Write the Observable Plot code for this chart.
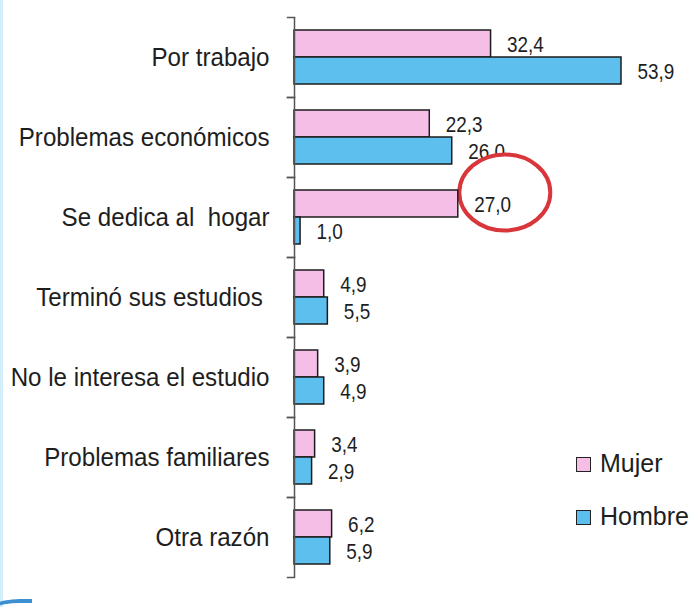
<!DOCTYPE html>
<html>
<head>
<meta charset="utf-8">
<script src="https://cdn.jsdelivr.net/npm/d3@7"></script>
<script src="https://cdn.jsdelivr.net/npm/@observablehq/plot@0.6"></script>
<style>
  html, body { margin: 0; padding: 0; background: #fff; }
  body { width: 697px; height: 607px; position: relative; overflow: hidden; font-family: "Liberation Sans", Arial, sans-serif; }
  #chart svg text { white-space: pre; }
  #legend { position: absolute; left: 576px; top: 437px; font-size: 25px; color: #1e1e1e; }
  #legend .row { display: flex; align-items: center; height: 53px; }
  #legend .sw { width: 13px; height: 13px; border: 1.6px solid #222; margin-right: 9px; margin-top: 2px; }
  #edge { position: absolute; left: 0; top: 0; width: 3px; height: 607px; background: #d3eefb; }
  #corner { position: absolute; left: -20px; top: 599px; width: 52px; height: 30px; border-top-left-radius: 40px 20px; border-top: 4px solid #3d8fd3; }
</style>
</head>
<body>
<div id="edge"></div>
<div id="corner"></div>
<div id="chart"></div>
<div id="legend"></div>
<script>
// ---- data ----
const categories = [
  "Por trabajo",
  "Problemas económicos",
  "Se dedica al  hogar",
  "Terminó sus estudios ",
  "No le interesa el estudio",
  "Problemas familiares",
  "Otra razón"
];
const series = ["Mujer", "Hombre"];
const mujer  = [32.4, 22.3, 27.0, 4.9, 3.9, 3.4, 6.2];
const hombre = [53.9, 26.0, 1.0, 5.5, 4.9, 2.9, 5.9];
const highlight = { category: "Se dedica al  hogar", sex: "Mujer" };
const colors = ["#f4bee6", "#5cbfed"];

const rows = [];
categories.forEach((c, i) => {
  rows.push({ category: c, sex: "Mujer", value: mujer[i] });
  rows.push({ category: c, sex: "Hombre", value: hombre[i] });
});
const isHi = d => d.category === highlight.category && d.sex === highlight.sex;
const fmt = d => d.value.toFixed(1).replace(".", ",");

// ellipse symbol for the red annotation
const ellipseSymbol = {
  draw(ctx) {
    const rx = 45.5, ry = 38, k = 0.5523;
    ctx.moveTo(rx, 0);
    ctx.bezierCurveTo(rx, ry * k, rx * k, ry, 0, ry);
    ctx.bezierCurveTo(-rx * k, ry, -rx, ry * k, -rx, 0);
    ctx.bezierCurveTo(-rx, -ry * k, -rx * k, -ry, 0, -ry);
    ctx.bezierCurveTo(rx * k, -ry, rx, -ry * k, rx, 0);
    ctx.closePath();
  }
};

const W = 697, mL = 294, mR = 39;
const chart = Plot.plot({
  width: W,
  height: 593,
  marginTop: 14,
  marginBottom: 13,
  marginLeft: mL,
  marginRight: mR,
  style: { fontFamily: "'Liberation Sans', Arial, sans-serif", color: "#1e1e1e", background: "transparent" },
  x: { domain: [0, 60], axis: null },
  y: { domain: series, axis: null, paddingInner: 0, paddingOuter: 0.44 },
  fy: { domain: categories, padding: 0, label: null },
  color: { domain: series, range: colors },
  marks: [
    Plot.axisFy({ anchor: "left", tickSize: 0, tickPadding: 25, fontSize: 25, label: null }),
    Plot.frame({ anchor: "top", insetLeft: -7, insetRight: W - mL - mR, stroke: "#555", strokeWidth: 1.5 }),
    Plot.frame({ anchor: "bottom", insetLeft: -7, insetRight: W - mL - mR, stroke: "#555", strokeWidth: 1.5 }),
    Plot.text(rows.filter(d => !isHi(d)), { x: "value", y: "sex", fy: "category", text: fmt, dx: 16, dy: 1, textAnchor: "start", fontSize: 22.5, fill: "#1e1e1e" }),
    Plot.dot(rows.filter(isHi), { x: "value", y: "sex", fy: "category", dx: 46.5, dy: -11.5, symbol: ellipseSymbol, fill: "white", stroke: "#d9363b", strokeWidth: 4 }),
    Plot.barX(rows, { x: "value", y: "sex", fy: "category", fill: "sex", stroke: "#1c1c1c", strokeWidth: 1.5 }),
    Plot.ruleX([0], { stroke: "#555", strokeWidth: 1.5 }),
    Plot.text(rows.filter(isHi), { x: "value", y: "sex", fy: "category", text: fmt, dx: 16, dy: 1, textAnchor: "start", fontSize: 22.5, fill: "#1e1e1e" })
  ]
});
document.getElementById("chart").appendChild(chart);

// narrow the glyphs a little, like the condensed face of the original
function condense(selector, factor) {
  chart.querySelectorAll(selector).forEach(t => {
    const len = t.getComputedTextLength();
    if (len > 0) {
      t.setAttribute("textLength", (len * factor).toFixed(2));
      t.setAttribute("lengthAdjust", "spacingAndGlyphs");
    }
  });
}
condense('g[aria-label="text"] text', 0.84);
condense('g[aria-label="fy-axis tick label"] text', 0.965);

// legend
const legend = document.getElementById("legend");
series.forEach((s, i) => {
  const row = document.createElement("div");
  row.className = "row";
  const sw = document.createElement("div");
  sw.className = "sw";
  sw.style.background = colors[i];
  const lab = document.createElement("span");
  lab.textContent = s;
  row.appendChild(sw);
  row.appendChild(lab);
  legend.appendChild(row);
});
</script>
</body>
</html>
